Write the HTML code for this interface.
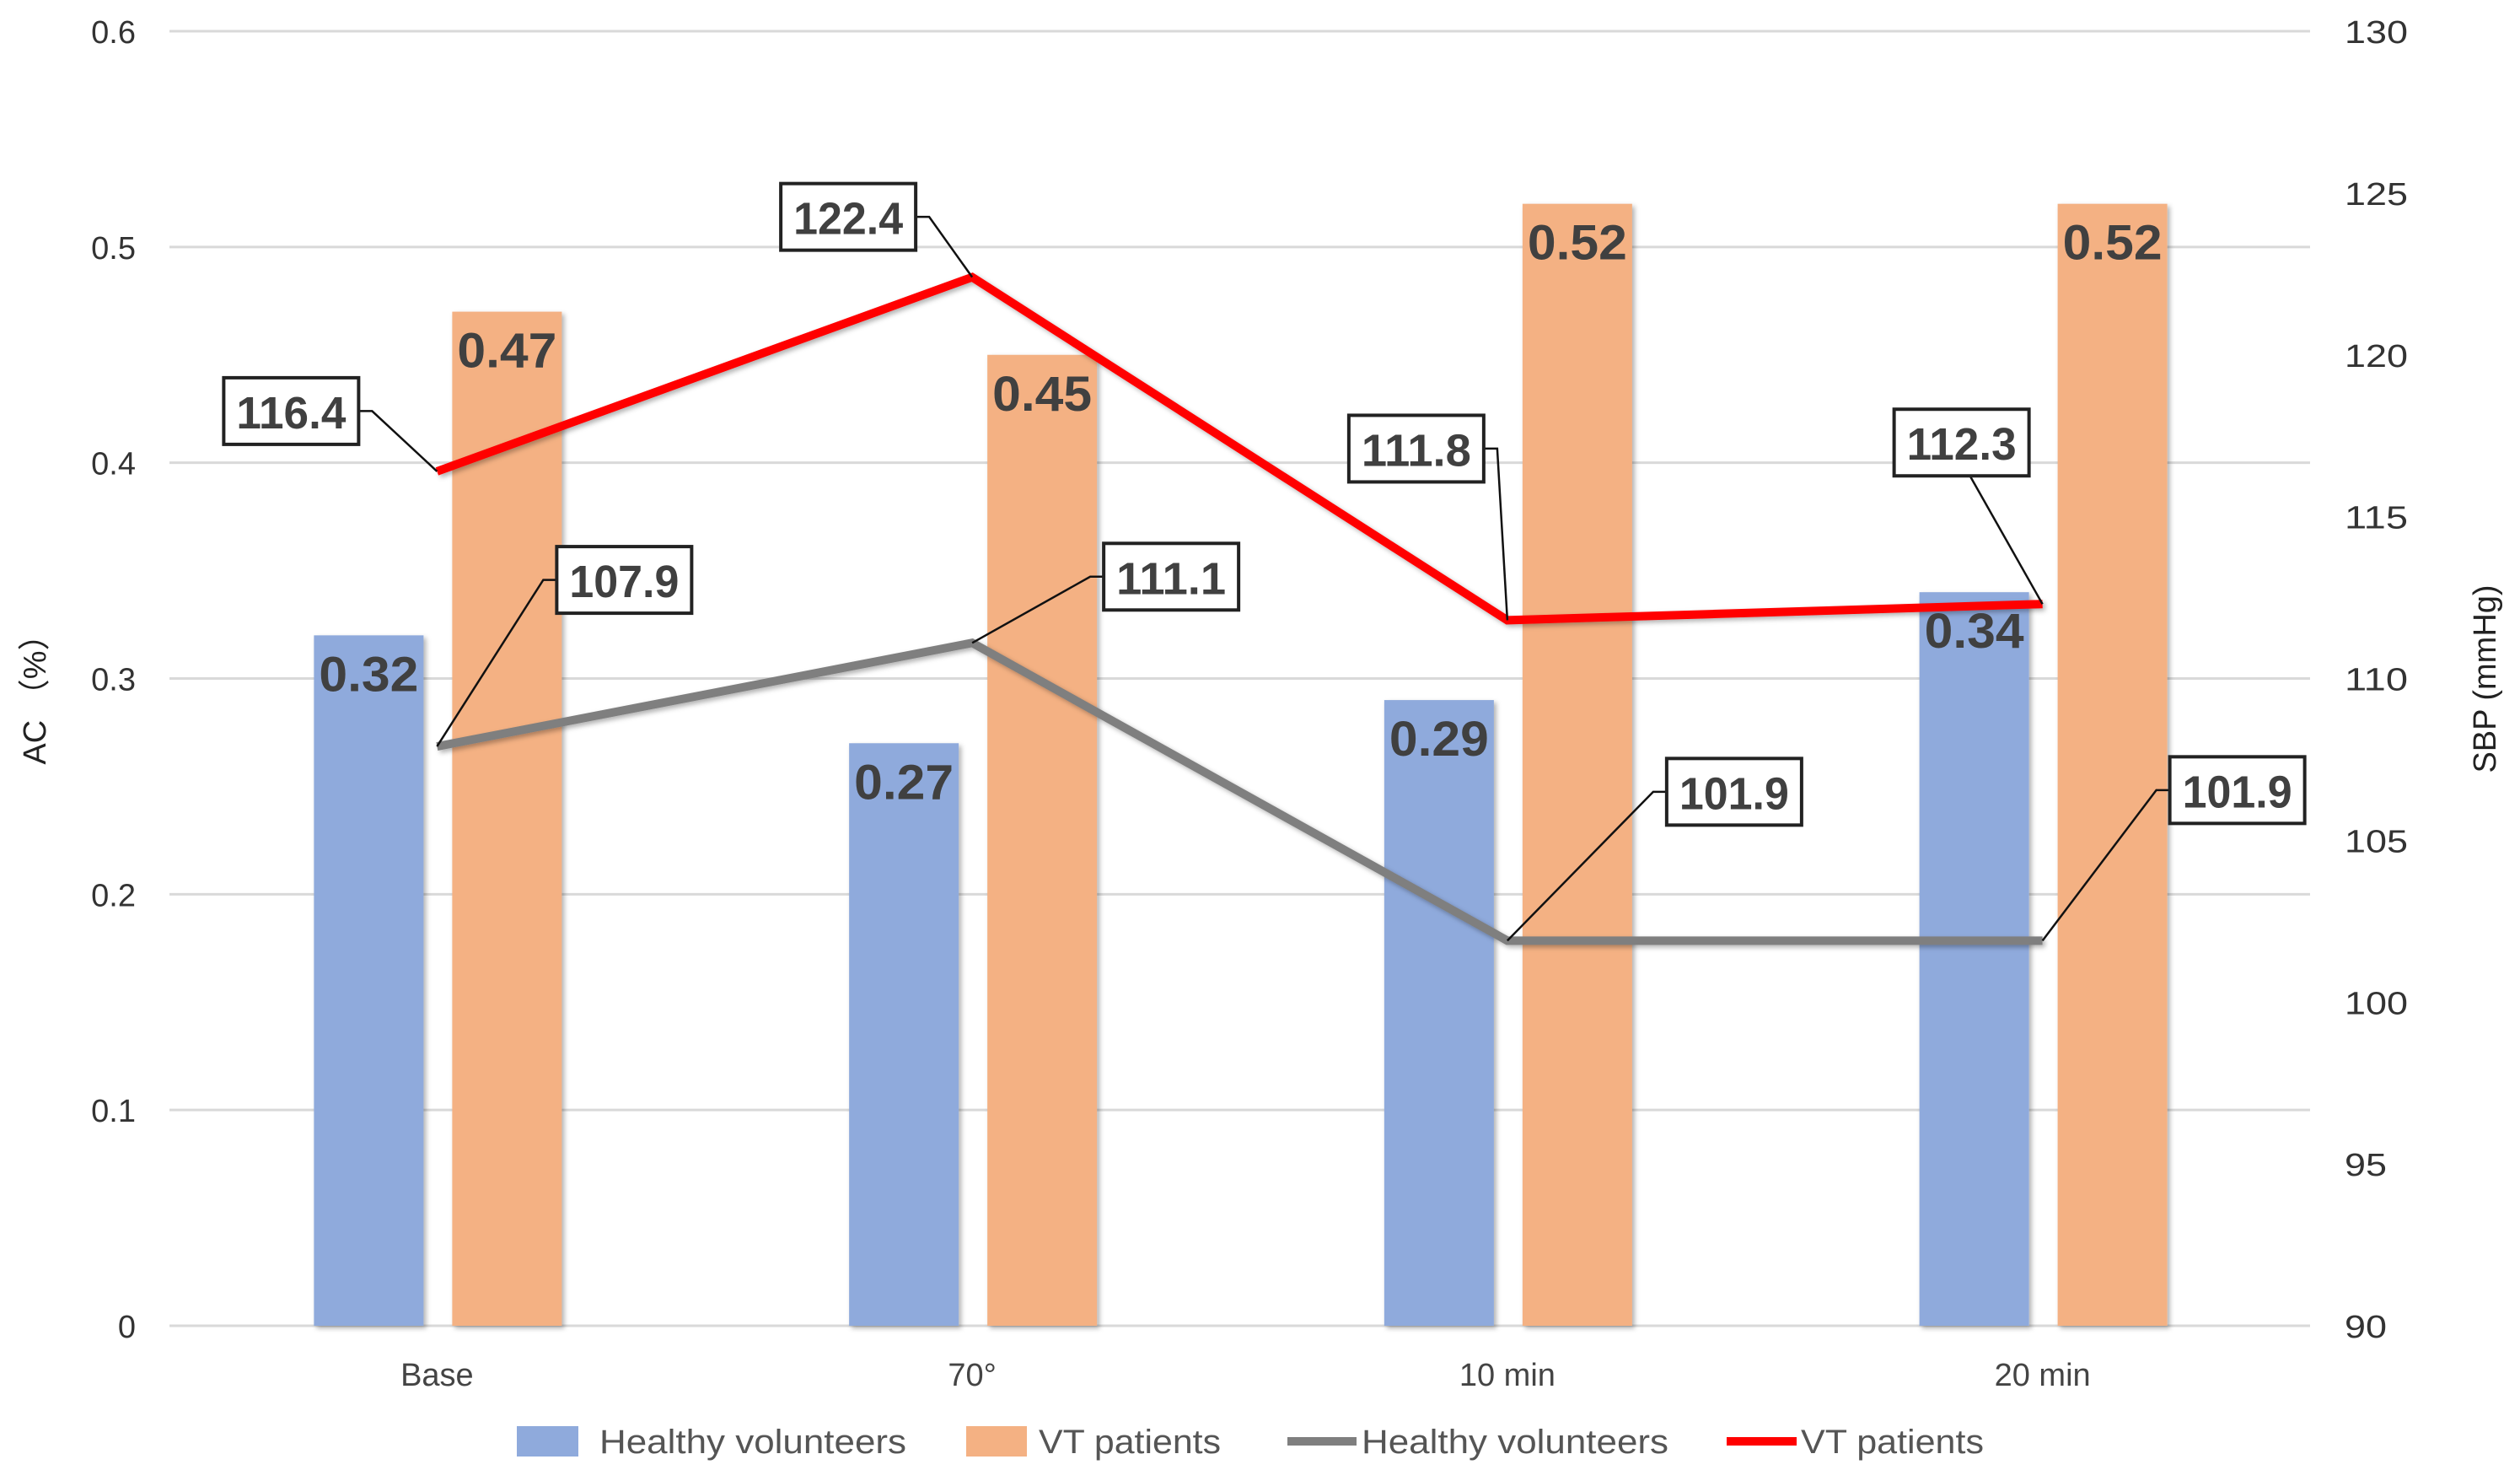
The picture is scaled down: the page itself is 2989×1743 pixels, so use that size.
<!DOCTYPE html>
<html><head><meta charset="utf-8"><style>
html,body{margin:0;padding:0;background:#fff;}
svg{display:block;}
</style></head><body>
<svg id="chart" width="2989" height="1743" viewBox="0 0 2989 1743" xmlns="http://www.w3.org/2000/svg" font-family="'Liberation Sans', sans-serif">
<defs>
<filter id="sh" x="-10%" y="-10%" width="130%" height="130%"><feDropShadow dx="3" dy="3" stdDeviation="3" flood-color="#000" flood-opacity="0.3"/></filter>
</defs>
<g id="grid"></g>
<g id="bars"></g>
<g id="lines"></g>
<g id="labels"></g>
<text transform="translate(54,820) rotate(-90)" text-anchor="middle" font-size="38" fill="#222" font-family="'Liberation Sans','Noto Sans CJK SC',sans-serif">AC （%）</text>
<text transform="translate(2960,805) rotate(-90)" text-anchor="middle" font-size="38" fill="#222">SBP (mmHg)</text>
<g font-size="40" fill="#555">
  <g><rect x="613" y="1691" width="73" height="36" fill="#8faadc"/><text x="711" y="1723" textLength="364" lengthAdjust="spacingAndGlyphs">Healthy volunteers</text></g>
  <g><rect x="1146" y="1691" width="72" height="36" fill="#f4b183"/><text x="1232" y="1723" textLength="216" lengthAdjust="spacingAndGlyphs">VT patients</text></g>
  <g><rect x="1527" y="1704" width="82" height="10" fill="#7f7f7f"/><text x="1615" y="1723" textLength="364" lengthAdjust="spacingAndGlyphs">Healthy volunteers</text></g>
  <g><rect x="2048" y="1704" width="83" height="10" fill="#ff0000"/><text x="2136" y="1723" textLength="217" lengthAdjust="spacingAndGlyphs">VT patients</text></g>
</g>
</svg>
<script>
const categories = ["Base", "70°", "10 min", "20 min"];
const healthyAC = [0.32, 0.27, 0.29, 0.34];
const vtAC = [0.47, 0.45, 0.52, 0.52];
const healthySBP = [107.9, 111.1, 101.9, 101.9];
const vtSBP = [116.4, 122.4, 111.8, 112.3];
const leftTicks = [0, 0.1, 0.2, 0.3, 0.4, 0.5, 0.6];
const rightTicks = [90, 95, 100, 105, 110, 115, 120, 125, 130];

const NS = "http://www.w3.org/2000/svg";
const X0 = 201, X1 = 2740, Y0 = 1572, Y1 = 37;
const band = (X1 - X0) / categories.length;
const cx = i => X0 + band * (i + 0.5);
const yL = v => Y0 - (v - 0) / 0.6 * (Y0 - Y1);
const yR = v => Y0 - (v - 90) / 40 * (Y0 - Y1);
function mk(tag, attrs, parent) { const e = document.createElementNS(NS, tag); for (const k in attrs) e.setAttribute(k, attrs[k]); parent.appendChild(e); return e; }
const grid = document.getElementById('grid'), bars = document.getElementById('bars'), lines = document.getElementById('lines'), labels = document.getElementById('labels');

leftTicks.forEach(t => {
  const g = mk('line', {x1: X0, x2: X1, y1: yL(t), y2: yL(t), stroke: '#d9d9d9', 'stroke-width': 3}, grid);
  
  
  const tx = mk('text', {x: 161, y: yL(t) + 14, 'text-anchor': 'end', 'font-size': 38, fill: '#333'}, grid);
  tx.textContent = String(t);
  
  
});
rightTicks.forEach(t => {
  const tx = mk('text', {x: 2781, y: yR(t) + 14, 'font-size': 38, fill: '#333', textLength: String(t).length * 25, lengthAdjust: 'spacingAndGlyphs'}, grid);
  tx.textContent = String(t);
  
  
});
categories.forEach((c, i) => {
  const tx = mk('text', {x: cx(i), y: 1643, 'text-anchor': 'middle', 'font-size': 38, fill: '#444'}, grid);
  tx.textContent = c;
  
  
});

function bar(i, v, off, color, name) {
  const r = mk('rect', {x: cx(i) + off, y: yL(v), width: 130, height: Y0 - yL(v), fill: color, filter: 'url(#sh)'}, bars);
  
  
  const t = mk('text', {x: cx(i) + off + 65, y: yL(v) + 66, 'text-anchor': 'middle', 'font-size': 58, 'font-weight': 'bold', fill: '#404040', textLength: 118, lengthAdjust: 'spacingAndGlyphs'}, labels);
  t.textContent = v.toFixed(2);
  
  
}
categories.forEach((c, i) => { bar(i, healthyAC[i], -146, '#8faadc', 'bar-healthy'); bar(i, vtAC[i], 18, '#f4b183', 'bar-vt'); });

function series(vals, color, name) {
  const pts = vals.map((v, i) => cx(i) + ',' + yR(v)).join(' ');
  const p = mk('polyline', {points: pts, fill: 'none', stroke: color, 'stroke-width': 10, 'stroke-linejoin': 'miter', filter: 'url(#sh)'}, lines);
  
  
}
series(healthySBP, '#7f7f7f', 'line-healthy-sbp');
series(vtSBP, '#ff0000', 'line-vt-sbp');

// callout box offsets relative to point
const vtBox = [[-253, -111, 'r'], [-227, -111, 'r'], [-188, -243, 'r'], [-176, -231, 'b']];
const hvBox = [[142, -237, 'l'], [156, -118, 'l'], [189, -216, 'l'], [151, -218, 'l']];
function callout(i, v, off, name) {
  const px = cx(i), py = yR(v);
  const bx = px + off[0], by = py + off[1], bw = 160, bh = 79;
  let d;
  if (off[2] === 'r') d = `M${bx + bw},${by + bh / 2} h16 L${px},${py}`;
  else if (off[2] === 'l') d = `M${bx},${by + bh / 2} h-16 L${px},${py}`;
  else d = `M${bx + bw / 2 + 10},${by + bh} L${px},${py}`;
  const l = mk('path', {d: d, fill: 'none', stroke: '#111', 'stroke-width': 2.5}, labels);
  
  
  const r = mk('rect', {x: bx, y: by, width: bw, height: bh, fill: '#fff', stroke: '#222', 'stroke-width': 4}, labels);
  
  
  const t = mk('text', {x: bx + bw / 2, y: by + 60, 'text-anchor': 'middle', 'font-size': 54, 'font-weight': 'bold', fill: '#404040', textLength: 130, lengthAdjust: 'spacingAndGlyphs'}, labels);
  t.textContent = v.toFixed(1);
  
  
}
categories.forEach((c, i) => { callout(i, vtSBP[i], vtBox[i], 'callout-vt'); callout(i, healthySBP[i], hvBox[i], 'callout-healthy'); });
</script>
</body></html>
